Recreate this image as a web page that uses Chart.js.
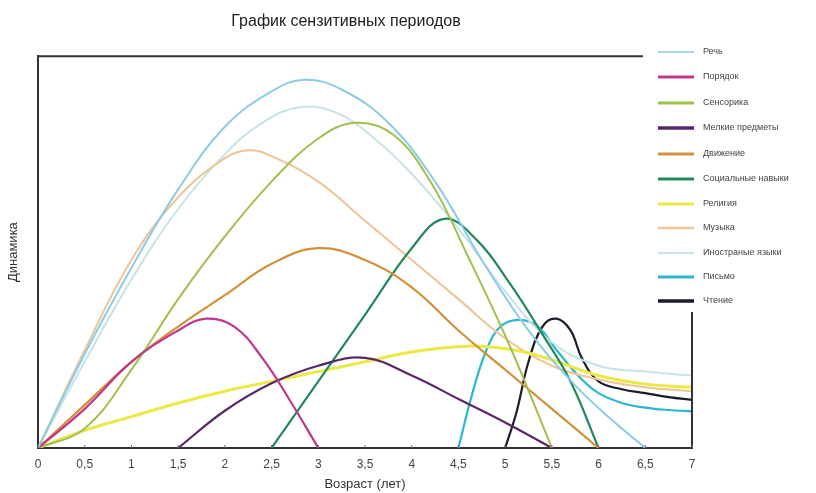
<!DOCTYPE html>
<html>
<head>
<meta charset="utf-8">
<script src="https://cdn.jsdelivr.net/npm/chart.js@4"></script>
<style>
html,body{margin:0;padding:0;background:#fff;}
#wrap{width:816px;height:493px;position:relative;}
</style>
</head>
<body>
<div id="wrap"><canvas id="c" width="816" height="493"></canvas></div>
<script>
// ---- data ----
const titleText = 'График сензитивных периодов';
const xTitle = 'Возраст (лет)';
const yTitle = 'Динамика';
const xTicks = [0, 0.5, 1, 1.5, 2, 2.5, 3, 3.5, 4, 4.5, 5, 5.5, 6, 6.5, 7];

const names = ['Речь', 'Порядок', 'Сенсорика', 'Мелкие предметы', 'Движение', 'Социальные навыки', 'Религия', 'Музыка', 'Иностраные языки', 'Письмо', 'Чтение'];

const rechX = [0, 0.5, 1, 1.5, 2, 2.5, 2.85, 3.25, 3.75, 4.25, 4.75, 5.25, 5.75, 6.15, 6.5];
const rechY = [0, 24, 46, 66, 82, 91, 94, 91.5, 83, 68, 48, 30, 16, 7, 0];

const poryadokX = [0, 0.5, 1, 1.5, 1.8, 2.1, 2.4, 2.7, 3];
const poryadokY = [0, 10, 22, 30, 33, 31, 23, 12, 0];

const sensorikaX = [0, 0.5, 1, 1.5, 2, 2.5, 3, 3.4, 3.8, 4.2, 4.6, 5.05, 5.5];
const sensorikaY = [0, 5, 20, 38, 54, 68, 79, 83, 80, 68, 49, 26, 0];

const melkieX = [1.5, 2, 2.5, 3, 3.5, 4, 4.5, 5, 5.5];
const melkieY = [0, 9.5, 16.5, 21, 23, 18.5, 12.5, 6.5, 0];

const dvizhenieX = [0, 0.5, 1, 1.5, 2, 2.5, 3, 3.5, 4, 4.5, 5, 5.5, 6];
const dvizhenieY = [0, 11, 22, 31, 39, 47, 51, 48, 41, 30, 20, 10, 0];

const socX = [2.5, 3, 3.5, 4, 4.35, 4.7, 5.05, 5.4, 5.7, 6];
const socY = [0, 17, 34, 51, 58.5, 53, 42, 29, 17, 0];

const religiyaX = [0, 0.5, 1, 1.5, 2, 2.5, 3, 3.5, 4, 4.6, 5.1, 5.5, 6, 6.5, 7];
const religiyaY = [0, 4.5, 8, 11.5, 14.5, 17, 19.5, 22, 24.5, 26, 25, 22.5, 18.5, 16.3, 15.5];

const muzykaX = [0, 0.5, 1, 1.5, 2, 2.25, 2.5, 3, 3.5, 4, 4.5, 5, 5.5, 6, 6.5, 7];
const muzykaY = [0, 25, 48, 64, 74, 76, 74.5, 68, 58, 48, 38, 28, 21, 17.5, 15.5, 14.5];

const inostrX = [0, 0.5, 1, 1.5, 2, 2.4, 2.8, 3.2, 3.6, 4, 4.5, 5, 5.5, 6, 6.5, 7];
const inostrY = [0, 22, 43, 61, 75, 83, 87, 85.5, 79, 70, 56, 40, 27, 21, 19.5, 18.5];

const pismoX = [4.5, 4.65, 4.8, 4.95, 5.15, 5.35, 5.55, 5.8, 6, 6.25, 6.5, 6.75, 7];
const pismoY = [0, 14, 25, 31, 32.7, 31, 25, 18, 14, 11.5, 10.3, 9.7, 9.4];

const chtenieX = [5, 5.12, 5.25, 5.4, 5.55, 5.7, 5.82, 6, 6.25, 6.5, 6.75, 7];
const chtenieY = [0, 9, 22, 31, 33, 30, 23, 17, 15, 14, 13, 12.3];

// ---- styles ----
const colors = ['#8ccbe6', '#c2368a', '#a0c04e', '#56296b', '#d2903a', '#23895a', '#ece845', '#efc595', '#c8e2ea', '#2fb6cf', '#1c1c2c'];
const widths = [2, 2.2, 2, 2.2, 2.2, 2.2, 3, 2, 2, 2.2, 2.2];
const legendWidths = [1.5, 3, 3, 3.5, 3, 3, 3, 2.5, 2, 3, 3.5];
const legendY = [52, 77, 103, 128, 154, 179, 204, 228, 253, 277, 301];

const seriesX = [rechX, poryadokX, sensorikaX, melkieX, dvizhenieX, socX, religiyaX, muzykaX, inostrX, pismoX, chtenieX];
const seriesY = [rechY, poryadokY, sensorikaY, melkieY, dvizhenieY, socY, religiyaY, muzykaY, inostrY, pismoY, chtenieY];

const datasets = names.map((n, i) => ({
  label: n,
  data: seriesX[i].map((x, j) => ({x: x, y: seriesY[i][j]})),
  borderColor: colors[i],
  backgroundColor: colors[i],
  borderWidth: widths[i],
  pointRadius: 0,
  fill: false,
  tension: 0.4
}));

const FONT = '"Liberation Sans", Arial, sans-serif';

const framePlugin = {
  id: 'frame',
  afterDraw(chart) {
    const {ctx, chartArea: a} = chart;
    ctx.save();
    ctx.strokeStyle = '#333';
    ctx.lineWidth = 2;
    ctx.beginPath();
    ctx.moveTo(a.left, a.top);
    ctx.lineTo(643, a.top);
    ctx.moveTo(a.right, 312);
    ctx.lineTo(a.right, a.bottom);
    ctx.stroke();
    const xs = chart.scales.x;
    ctx.lineWidth = 1;
    ctx.strokeStyle = '#666';
    ctx.beginPath();
    xTicks.forEach(v => {
      const px = xs.getPixelForValue(v);
      ctx.moveTo(px, a.bottom);
      ctx.lineTo(px, a.bottom - 3);
    });
    ctx.stroke();
    ctx.font = '9px ' + FONT;
    ctx.textBaseline = 'middle';
    ctx.textAlign = 'left';
    names.forEach((n, i) => {
      ctx.strokeStyle = colors[i];
      ctx.lineWidth = legendWidths[i];
      ctx.beginPath();
      ctx.moveTo(658, legendY[i]);
      ctx.lineTo(694, legendY[i]);
      ctx.stroke();
      ctx.fillStyle = '#444';
      ctx.fillText(n, 703, legendY[i]);
    });
    ctx.restore();
  }
};

new Chart(document.getElementById('c'), {
  type: 'line',
  data: {datasets: datasets},
  plugins: [framePlugin],
  options: {
    responsive: false,
    animation: false,
    layout: {padding: {left: 0, right: 124, top: 0, bottom: 0}},
    plugins: {
      legend: {display: false},
      tooltip: {enabled: false},
      title: {
        display: true,
        text: titleText,
        color: '#222',
        font: {family: FONT, size: 16, weight: 'normal', lineHeight: 1.2},
        padding: {top: 12, bottom: 25}
      }
    },
    scales: {
      x: {
        type: 'linear',
        min: 0, max: 7,
        afterFit(s) { s.height = 45; },
        afterBuildTicks(s) { s.ticks = xTicks.map(v => ({value: v})); },
        ticks: {
          color: '#444',
          padding: 9,
          font: {family: FONT, size: 12},
          maxRotation: 0,
          autoSkip: false,
          callback: v => String(v).replace('.', ',')
        },
        grid: {display: true, drawOnChartArea: false, drawTicks: false},
        border: {display: true, color: '#333', width: 2},
        title: {
          display: true,
          text: xTitle,
          color: '#333',
          font: {family: FONT, size: 13},
          padding: {top: 0, bottom: 1}
        }
      },
      y: {
        min: 0, max: 100,
        afterFit(s) { s.width = 38; },
        ticks: {display: false},
        grid: {display: false, drawTicks: false},
        border: {display: true, color: '#333', width: 2},
        title: {
          display: true,
          text: yTitle,
          color: '#333',
          font: {family: FONT, size: 13},
          padding: {top: 6, bottom: 0}
        }
      }
    }
  }
});
</script>
</body>
</html>
